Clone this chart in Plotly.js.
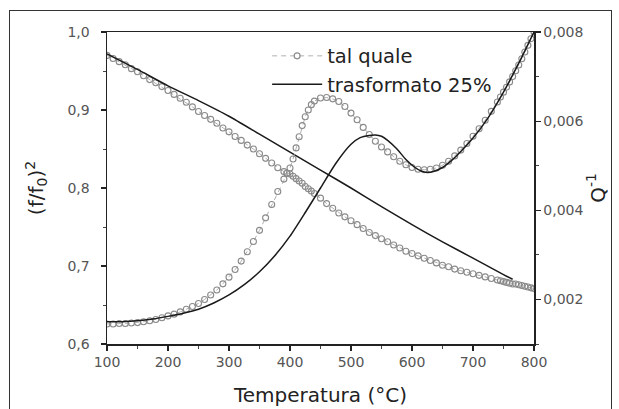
<!DOCTYPE html>
<html>
<head>
<meta charset="utf-8">
<script src="https://cdn.plot.ly/plotly-3.0.1.min.js"></script>
<style>
html,body{margin:0;padding:0;background:#fff;}
#wrap{position:relative;width:619px;height:409px;overflow:hidden;}
#frame{position:absolute;left:9px;top:10px;width:601px;height:420px;border-left:1.5px solid #333;border-top:1.5px solid #333;border-right:1.5px solid #333;pointer-events:none;}
#chart{position:absolute;left:0;top:0;width:619px;height:409px;}
</style>
</head>
<body>
<div id="wrap"><div id="chart"></div><div id="frame"></div></div>
<script>
// Temperature grid for "tal quale" (circles)
const tempTQ = [100,110,120,130,140,150,160,170,180,190,200,210,220,230,240,250,260,270,280,290,300,310,320,330,340,350,360,370,380,390,395,400,405,410,415,420,425,430,435,440,450,460,470,480,490,500,510,520,530,540,550,560,570,580,590,600,610,620,630,640,650,660,670,680,690,700,710,720,730,740,745,750,755,760,765,770,775,780,785,790,795,800];
// (f/f0)^2 tal quale
const fTQ = [0.970,0.966,0.962,0.958,0.953,0.949,0.944,0.939,0.935,0.930,0.925,0.920,0.915,0.910,0.904,0.898,0.893,0.888,0.883,0.877,0.872,0.866,0.861,0.855,0.850,0.844,0.838,0.832,0.826,0.821,0.819,0.818,0.815,0.812,0.809,0.806,0.802,0.799,0.796,0.793,0.787,0.780,0.774,0.768,0.763,0.758,0.753,0.748,0.743,0.739,0.735,0.731,0.727,0.723,0.719,0.716,0.713,0.710,0.707,0.704,0.701,0.699,0.696,0.694,0.692,0.690,0.688,0.686,0.684,0.682,0.681,0.680,0.679,0.678,0.677,0.677,0.676,0.675,0.674,0.673,0.672,0.671];
// Q^-1 tal quale
const qTQ = [0.00145,0.00145,0.00146,0.00146,0.00147,0.00148,0.00150,0.00152,0.00155,0.00159,0.00163,0.00167,0.00172,0.00178,0.00184,0.00191,0.00200,0.00210,0.00221,0.00235,0.00250,0.00267,0.00286,0.00307,0.00330,0.00355,0.00383,0.00413,0.00442,0.00470,0.00483,0.00495,0.00515,0.00540,0.00565,0.00590,0.00610,0.00625,0.00637,0.00645,0.00652,0.00653,0.00650,0.00644,0.00633,0.00618,0.00603,0.00586,0.00570,0.00555,0.00542,0.00531,0.00520,0.00510,0.00502,0.00496,0.00492,0.00491,0.00492,0.00495,0.00501,0.00510,0.00522,0.00535,0.00550,0.00566,0.00583,0.00602,0.00622,0.00643,0.00654,0.00665,0.00676,0.00688,0.00700,0.00713,0.00726,0.00740,0.00755,0.00770,0.00785,0.00800];

// "trasformato 25%" (solid black)
const tempTrF = [100,150,200,250,300,350,400,450,500,550,600,650,700,750,765];
const fTr = [0.972,0.952,0.931,0.912,0.892,0.869,0.846,0.823,0.800,0.776,0.753,0.731,0.710,0.689,0.683];
const tempTrQ = [100,125,150,175,200,225,250,275,300,325,350,375,400,425,450,475,500,515,530,540,550,560,575,590,605,615,625,635,650,665,680,700,725,750,775,800];
const qTr = [0.00150,0.00150,0.00152,0.00156,0.00162,0.00169,0.00178,0.00192,0.00210,0.00233,0.00262,0.00298,0.00342,0.00395,0.00450,0.00505,0.00548,0.00563,0.00568,0.00569,0.00566,0.00557,0.00538,0.00514,0.00496,0.00488,0.00485,0.00487,0.00496,0.00512,0.00532,0.00562,0.00608,0.00665,0.00730,0.00800];

const seriesNames = ["tal quale","trasformato 25%"];
const xTicks = [100,200,300,400,500,600,700,800];

const font = "DejaVu Sans, sans-serif";
const gray = "#8a8a8a";

const traces = [
  {x: tempTQ, y: fTQ, yaxis: "y", name: seriesNames[0], legendgroup: "a", mode: "lines+markers", showlegend: true,
   line: {color: "#b0b0b0", width: 1, dash: "5px,4px"},
   marker: {symbol: "circle-open", size: 6, color: gray, line: {width: 1.1, color: gray}}},
  {x: tempTQ, y: qTQ, yaxis: "y2", name: seriesNames[0], legendgroup: "a", mode: "lines+markers", showlegend: false,
   line: {color: "#b0b0b0", width: 1, dash: "5px,4px"},
   marker: {symbol: "circle-open", size: 6, color: gray, line: {width: 1.1, color: gray}}},
  {x: tempTrF, y: fTr, yaxis: "y", name: seriesNames[1], legendgroup: "b", mode: "lines", showlegend: true,
   line: {color: "#1a1a1a", width: 1.5, shape: "spline", smoothing: 0.6}},
  {x: tempTrQ, y: qTr, yaxis: "y2", name: seriesNames[1], legendgroup: "b", mode: "lines", showlegend: false,
   line: {color: "#1a1a1a", width: 1.5, shape: "spline", smoothing: 0.6}}
];

const axisCommon = {
  showline: true, linecolor: "#222", linewidth: 1.5,
  ticks: "outside", ticklen: 5, tickwidth: 1.2, tickcolor: "#222",
  showgrid: false, zeroline: false,
  tickfont: {family: font, size: 14, color: "#555"},
  minor: {ticks: "outside", ticklen: 3, tickwidth: 1, tickcolor: "#444", showgrid: false}
};

const layout = {
  width: 619, height: 409,
  margin: {l: 107, r: 85, t: 32, b: 65},
  paper_bgcolor: "#fff", plot_bgcolor: "#fff",
  separators: ",.",
  font: {family: font, color: "#222"},
  showlegend: true,
  legend: {x: 0.375, y: 0.985, xanchor: "left", yanchor: "top", bgcolor: "rgba(0,0,0,0)",
           font: {family: font, size: 19.5, color: "#222"}, itemwidth: 50,
           traceorder: "grouped", tracegroupgap: 0},
  xaxis: Object.assign({}, axisCommon, {
    range: [100, 800], tickvals: xTicks, mirror: true,
    minor: Object.assign({}, axisCommon.minor, {dtick: 50, tick0: 50}),
    title: {text: "Temperatura (°C)", font: {family: font, size: 20, color: "#222"}, standoff: 18}
  }),
  yaxis: Object.assign({}, axisCommon, {
    range: [0.6, 1.0], dtick: 0.1, tick0: 0.6, tickformat: ".1f", ticklabelstandoff: 8,
    minor: Object.assign({}, axisCommon.minor, {dtick: 0.05}),
    title: {text: "(f/f<sub>0</sub>)<sup>2</sup>", font: {family: font, size: 20, color: "#222"}, standoff: 18}
  }),
  yaxis2: Object.assign({}, axisCommon, {
    overlaying: "y", side: "right", anchor: "x",
    range: [0.001, 0.008], dtick: 0.002, tick0: 0.002, tickformat: ".3f",
    minor: Object.assign({}, axisCommon.minor, {dtick: 0.001}),
    title: {text: "Q<sup>-1</sup>", font: {family: font, size: 20, color: "#222"}, standoff: 4}
  })
};

Plotly.newPlot("chart", traces, layout, {staticPlot: true, displayModeBar: false});
</script>
</body>
</html>
